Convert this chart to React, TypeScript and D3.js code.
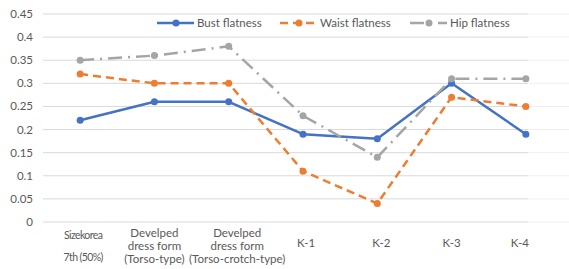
import { useEffect, useRef } from "react";
import * as d3 from "d3";

const categories = [
  ["Sizekorea", "7th (50%)"],
  ["Develped", "dress form", "(Torso-type)"],
  ["Develped", "dress form", "(Torso-crotch-type)"],
  ["K-1"],
  ["K-2"],
  ["K-3"],
  ["K-4"],
];
const bust = [0.22, 0.26, 0.26, 0.19, 0.18, 0.3, 0.19];
const waist = [0.32, 0.3, 0.3, 0.11, 0.04, 0.27, 0.25];
const hip = [0.35, 0.36, 0.38, 0.23, 0.14, 0.31, 0.31];
const yTicks = [0, 0.05, 0.1, 0.15, 0.2, 0.25, 0.3, 0.35, 0.4, 0.45];

const series = [
  { name: "Bust flatness", values: bust, color: "#4472C4", dash: null, legendX: 157 },
  { name: "Waist flatness", values: waist, color: "#ED7D31", dash: "8,5", legendX: 280 },
  { name: "Hip flatness", values: hip, color: "#A5A5A5", dash: "14,6,2,6", legendX: 410 },
];

// small label nudges, as in the source image
const labelNudge = [3, 0, 8.5, 3, 4, 0, -6];

const App = () => {
  const ref = useRef<SVGSVGElement>(null);

  useEffect(() => {
    if (!ref.current) return;
    const width = 569;
    const gridRight = 528;
    const font = "Lato, 'Open Sans', sans-serif";

    const svg = d3.select(ref.current);
    svg.selectAll("*").remove();

    const x = d3
      .scaleBand<number>()
      .domain(d3.range(categories.length))
      .range([43, 563]);
    const cx = (i: number) => (x(i) ?? 0) + x.bandwidth() / 2;

    const y = d3.scaleLinear().domain([0, 0.45]).range([222, 14]);

    // gridlines
    const grid = svg.append("g");
    grid
      .selectAll("line.g")
      .data(yTicks)
      .join("line")
      .attr("x1", 43)
      .attr("x2", gridRight)
      .attr("y1", (d) => y(d))
      .attr("y2", (d) => y(d))
      .attr("stroke", "#d9d9d9")
      .attr("stroke-width", 1);
    grid
      .selectAll("line.f")
      .data(yTicks)
      .join("line")
      .attr("x1", gridRight)
      .attr("x2", width)
      .attr("y1", (d) => y(d))
      .attr("y2", (d) => y(d))
      .attr("stroke", "#f0f0f0")
      .attr("stroke-width", 1);

    // y labels
    svg
      .append("g")
      .selectAll("text")
      .data(yTicks)
      .join("text")
      .attr("x", 33)
      .attr("y", (d) => y(d))
      .attr("dy", "0.35em")
      .attr("text-anchor", "end")
      .attr("font-family", font)
      .attr("font-size", 11.5)
      .attr("fill", "#595959")
      .text((d) => d3.format("~g")(d));

    // x labels, one text per line
    const xg = svg.append("g");
    categories.forEach((d, i) => {
      const lineH = d.length === 2 ? 22 : 13;
      const y0 = d.length === 1 ? 247 : d.length === 2 ? 239 : 237;
      d.forEach((s, j) => {
        xg.append("text")
          .attr("x", cx(i) + labelNudge[i])
          .attr("y", y0 + j * lineH)
          .attr("text-anchor", "middle")
          .attr("font-family", font)
          .attr("fill", "#595959")
          .attr("font-size", d.length === 2 ? 10.5 : 11.5)
          .attr("letter-spacing", d.length === 2 ? "-0.6" : "0")
          .text(s);
      });
    });

    const line = d3
      .line<number>()
      .x((_, i) => cx(i))
      .y((d) => y(d));

    series.forEach((s) => {
      svg
        .append("path")
        .datum(s.values)
        .attr("d", line)
        .attr("fill", "none")
        .attr("stroke", s.color)
        .attr("stroke-width", 2.5)
        .attr("stroke-dasharray", s.dash)
        .attr("stroke-linejoin", "round");
      svg
        .append("g")
        .selectAll("circle")
        .data(s.values)
        .join("circle")
        .attr("cx", (_, i) => cx(i))
        .attr("cy", (d) => y(d))
        .attr("r", 3.5)
        .attr("fill", s.color);
    });

    // legend
    const lg = svg.append("g");
    series.forEach((s) => {
      const ly = 23;
      lg.append("line")
        .attr("x1", s.legendX)
        .attr("x2", s.legendX + 37)
        .attr("y1", ly)
        .attr("y2", ly)
        .attr("stroke", s.color)
        .attr("stroke-width", 2.5)
        .attr("stroke-dasharray", s.dash);
      lg.append("circle")
        .attr("cx", s.legendX + 19)
        .attr("cy", ly)
        .attr("r", 3.5)
        .attr("fill", s.color);
      lg.append("text")
        .attr("x", s.legendX + 40)
        .attr("y", ly)
        .attr("dy", "0.35em")
        .attr("font-family", font)
        .attr("font-size", 11.5)
        .attr("fill", "#595959")
        .text(s.name);
    });
  }, []);

  return (
    <svg
      ref={ref}
      width={569}
      height={269}
      style={{ position: "absolute", left: 0, top: 0, background: "#fff" }}
    />
  );
};

export default App;
